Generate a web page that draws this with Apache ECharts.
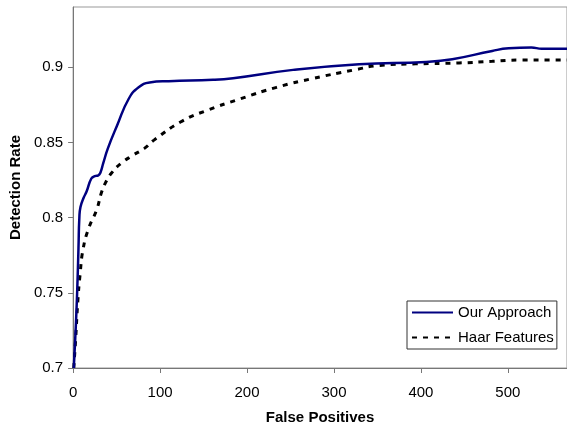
<!DOCTYPE html>
<html>
<head>
<meta charset="utf-8">
<script src="https://cdn.jsdelivr.net/npm/echarts@6/dist/echarts.min.js"></script>
<style>
html,body{margin:0;padding:0;background:#fff;}
#chart{width:567px;height:430px;}
</style>
</head>
<body>
<div id="chart"></div>
<script>
// Our Approach
var ourX = [0.8, 2.5, 4, 5.2, 6.2, 7.2, 8.5, 12, 15.5, 21, 25, 29, 31.5, 34.6, 40, 50.6, 64, 75.4, 88, 110, 161, 184, 253, 329, 406, 436, 482, 501, 527, 539, 568];
var ourY = [0.700, 0.720, 0.740, 0.760, 0.780, 0.800, 0.807, 0.813, 0.8173, 0.826, 0.8275, 0.828, 0.830, 0.836, 0.846, 0.8612, 0.879, 0.8866, 0.8898, 0.8907, 0.8916, 0.8927, 0.8982, 0.902, 0.9035, 0.9053, 0.9108, 0.9125, 0.913, 0.9123, 0.9123];
// Haar Features
var haarX = [0.8, 3, 5.5, 8, 11.5, 18, 27, 33, 38, 44, 55, 69, 82, 93, 125, 155, 192, 234, 276, 322, 352, 394, 444, 482, 513, 568];
var haarY = [0.700, 0.720, 0.745, 0.762, 0.779, 0.793, 0.805, 0.8173, 0.824, 0.8295, 0.836, 0.8415, 0.846, 0.8515, 0.864, 0.8715, 0.8789, 0.8866, 0.8925, 0.898, 0.9011, 0.9022, 0.9028, 0.9039, 0.9047, 0.9047];
var seriesNames = ['Our Approach', 'Haar Features'];
var xTitle = 'False Positives';
var yTitle = 'Detection Rate';

function pairs(xs, ys) { return xs.map(function (x, i) { return [x, ys[i]]; }); }

var FONT = '"Liberation Sans", Arial, sans-serif';
var chart = echarts.init(document.getElementById('chart'), null, {renderer: 'canvas'});
chart.setOption({
  animation: false,
  backgroundColor: '#fff',
  grid: {left: 72, top: 7, right: -1, bottom: 59, show: true, borderColor: '#999', borderWidth: 1, containLabel: false},
  legend: {
    orient: 'vertical', left: 407, top: 301,
    padding: [4, 3, 4, 4],
    itemWidth: 41, itemHeight: 14, itemGap: 10,
    borderColor: '#333', borderWidth: 1, backgroundColor: '#fff',
    itemStyle: {opacity: 0},
    textStyle: {fontFamily: FONT, fontSize: 15, color: '#000'},
    data: seriesNames
  },
  xAxis: {
    type: 'value', min: 0, max: 568, interval: 100,
    name: xTitle, nameLocation: 'middle', nameGap: 42,
    nameTextStyle: {fontFamily: FONT, fontSize: 15, fontWeight: 'bold', color: '#000'},
    axisLine: {show: true, lineStyle: {color: '#777', width: 1}},
    axisTick: {show: true, inside: false, length: 5, lineStyle: {color: '#777'}},
    axisLabel: {fontFamily: FONT, fontSize: 15, color: '#000', margin: 17, showMaxLabel: false},
    splitLine: {show: false}
  },
  yAxis: {
    type: 'value', min: 0.7, max: 0.94, interval: 0.05,
    name: yTitle, nameLocation: 'middle', nameGap: 24, nameRotate: 90,
    nameTextStyle: {fontFamily: FONT, fontSize: 15, fontWeight: 'bold', color: '#000'},
    axisLine: {show: true, lineStyle: {color: '#777', width: 1}},
    axisTick: {show: true, inside: false, length: 5, lineStyle: {color: '#777'}},
    axisLabel: {fontFamily: FONT, fontSize: 15, color: '#000', margin: 10, showMaxLabel: false,
      padding: [8, 0, 0, 0],
      formatter: function (v) { return String(Math.round(v * 100) / 100); }},
    splitLine: {show: false}
  },
  series: [
    {
      name: seriesNames[0], type: 'line', data: pairs(ourX, ourY),
      smooth: 0.5, symbol: 'none', showSymbol: false,
      lineStyle: {color: '#000080', width: 2.5}, itemStyle: {color: '#000080'}, z: 3
    },
    {
      name: seriesNames[1], type: 'line', data: pairs(haarX, haarY),
      smooth: 0.5, symbol: 'none', showSymbol: false,
      lineStyle: {color: '#000', width: 3, type: [5, 6]}, itemStyle: {color: '#000'}, z: 2
    }
  ]
});
</script>
</body>
</html>
